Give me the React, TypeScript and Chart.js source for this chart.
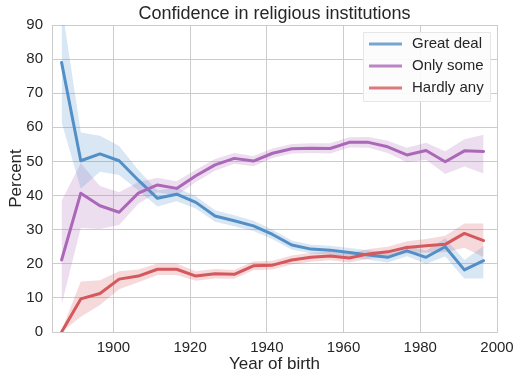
import React, { useEffect, useRef } from 'react';
import { Chart, registerables } from 'chart.js';

Chart.register(...registerables);

const birthYears = [1886.5, 1891.5, 1896.5, 1901.5, 1906.5, 1911.5, 1916.5, 1921.5, 1926.5, 1931.5, 1936.5, 1941.5, 1946.5, 1951.5, 1956.5, 1961.5, 1966.5, 1971.5, 1976.5, 1981.5, 1986.5, 1991.5, 1996.5];

const greatDeal = [79.0, 50.2, 52.2, 50.2, 44.5, 39.2, 40.4, 38.0, 34.0, 32.6, 31.1, 28.6, 25.5, 24.3, 24.0, 23.3, 22.6, 21.9, 23.8, 21.9, 25.0, 18.2, 20.9];
const greatDealLow = [61.5, 42.0, 47.0, 46.0, 41.5, 36.8, 38.3, 36.2, 32.3, 31.0, 29.6, 27.2, 24.2, 23.0, 22.7, 22.0, 21.2, 20.4, 22.2, 20.0, 22.1, 15.7, 15.7];
const greatDealHigh = [96.0, 58.5, 57.5, 54.5, 47.5, 41.5, 42.3, 39.8, 35.7, 34.2, 32.6, 30.0, 26.8, 25.6, 25.3, 24.6, 24.0, 23.4, 25.4, 23.8, 27.5, 21.1, 25.2];

const onlySome = [21.1, 40.7, 37.0, 35.1, 40.7, 43.1, 42.1, 45.8, 49.0, 50.9, 50.1, 52.4, 53.7, 53.9, 53.8, 55.6, 55.6, 54.3, 51.9, 53.2, 49.9, 53.1, 52.9];
const onlySomeLow = [8.0, 30.5, 30.2, 31.4, 37.6, 41.0, 40.0, 44.0, 47.3, 49.3, 48.6, 51.0, 52.3, 52.5, 52.3, 54.1, 54.0, 52.5, 49.8, 50.5, 46.3, 48.5, 46.5];
const onlySomeHigh = [38.5, 49.5, 42.8, 41.0, 44.0, 45.2, 44.2, 47.6, 50.7, 52.5, 51.6, 53.8, 55.1, 55.3, 55.3, 57.1, 57.2, 56.1, 54.0, 55.5, 53.0, 56.5, 57.8];

const hardlyAny = [0.0, 9.7, 11.3, 15.5, 16.4, 18.4, 18.4, 16.4, 17.1, 16.9, 19.4, 19.6, 21.1, 21.9, 22.3, 21.7, 22.9, 23.5, 24.8, 25.3, 25.7, 28.9, 26.8];
const hardlyAnyLow = [0.0, 4.5, 7.9, 12.5, 14.6, 16.7, 16.7, 15.0, 15.7, 15.6, 18.1, 18.3, 19.8, 20.6, 21.0, 20.4, 21.5, 22.0, 23.0, 23.3, 23.4, 24.7, 22.0];
const hardlyAnyHigh = [0.5, 14.8, 15.2, 17.8, 18.3, 20.1, 20.1, 17.8, 18.5, 18.2, 20.7, 20.9, 22.4, 23.2, 23.6, 23.0, 24.3, 25.0, 26.6, 27.3, 28.2, 31.8, 31.8];

const seriesLabels = ['Great deal', 'Only some', 'Hardly any'];
const xTicks = [1900, 1920, 1940, 1960, 1980, 2000];
const yTicks = [0, 10, 20, 30, 40, 50, 60, 70, 80, 90];

const chartTitle = 'Confidence in religious institutions';
const xTitle = 'Year of birth';
const yTitle = 'Percent';

const FONT = '"Liberation Sans", Arial, sans-serif';
const TEXT = '#262626';
const GRID = '#cccccc';
const COLORS: [number, number, number][] = [
  [82, 143, 199],
  [171, 104, 184],
  [212, 88, 92],
];

const rgba = (c: [number, number, number], a: number) => `rgba(${c[0]},${c[1]},${c[2]},${a})`;

export default function App() {
  const ref = useRef<HTMLCanvasElement>(null);

  useEffect(() => {
    if (!ref.current) return;
    const pts = (ys: number[]) => birthYears.map((x, i) => ({ x, y: ys[i] }));
    const groups = [
      { v: greatDeal, lo: greatDealLow, hi: greatDealHigh },
      { v: onlySome, lo: onlySomeLow, hi: onlySomeHigh },
      { v: hardlyAny, lo: hardlyAnyLow, hi: hardlyAnyHigh },
    ];
    const datasets: any[] = [];
    groups.forEach((g, k) => {
      const loIndex = datasets.length;
      datasets.push({
        label: '', data: pts(g.lo), borderWidth: 0, borderColor: 'rgba(0,0,0,0)',
        pointRadius: 0, fill: false, order: 10, tension: 0,
      });
      datasets.push({
        label: '', data: pts(g.hi), borderWidth: 0, borderColor: 'rgba(0,0,0,0)',
        pointRadius: 0, fill: loIndex, backgroundColor: rgba(COLORS[k], 0.22), order: 10, tension: 0,
      });
    });
    groups.forEach((g, k) => {
      datasets.push({
        label: seriesLabels[k], data: pts(g.v), borderColor: rgba(COLORS[k], 1), borderWidth: 3,
        pointRadius: 0, fill: false, order: 5 - k, tension: 0, borderJoinStyle: 'round', borderCapStyle: 'round',
      });
    });

    const decorations = {
      id: 'decorations',
      afterDraw(chart: any) {
        const ctx = chart.ctx as CanvasRenderingContext2D;
        const ca = chart.chartArea;
        ctx.save();
        ctx.fillStyle = TEXT;
        ctx.textAlign = 'center';
        ctx.textBaseline = 'middle';
        ctx.font = `18px ${FONT}`;
        ctx.fillText(chartTitle, (ca.left + ca.right) / 2, 14);
        ctx.font = `17px ${FONT}`;
        ctx.fillText(xTitle, (ca.left + ca.right) / 2, 364);
        ctx.save();
        ctx.translate(16, (ca.top + ca.bottom) / 2);
        ctx.rotate(-Math.PI / 2);
        ctx.fillText(yTitle, 0, 0);
        ctx.restore();

        // legend
        const lines = chart.data.datasets.filter((d: any) => d.label);
        ctx.fillStyle = 'rgba(252,252,252,0.92)';
        ctx.strokeStyle = '#e6e6e6';
        ctx.lineWidth = 1;
        ctx.beginPath();
        ctx.rect(363.5, 32.5, 127, 69);
        ctx.fill();
        ctx.stroke();
        ctx.font = `15px ${FONT}`;
        ctx.textAlign = 'left';
        lines.forEach((d: any, i: number) => {
          const y = 44 + i * 22;
          ctx.strokeStyle = d.borderColor.replace(',1)', ',0.8)');
          ctx.lineWidth = 3;
          ctx.beginPath();
          ctx.moveTo(369, y);
          ctx.lineTo(402, y);
          ctx.stroke();
          ctx.fillStyle = TEXT;
          ctx.fillText(d.label, 412, y);
        });
        ctx.restore();
      },
    };

    const chart = new Chart(ref.current, {
      type: 'line',
      data: { datasets },
      options: {
        animation: false,
        responsive: false,
        devicePixelRatio: 1,
        layout: { padding: { top: 25, right: 24, left: 0, bottom: 0 } },
        plugins: {
          legend: { display: false },
          tooltip: { enabled: false },
          title: { display: false },
        },
        scales: {
          x: {
            type: 'linear',
            min: 1884,
            max: 2000,
            afterBuildTicks: (axis: any) => { axis.ticks = xTicks.map((v) => ({ value: v })); },
            afterFit: (s: any) => { s.height = 48; },
            grid: { color: GRID, lineWidth: 1, drawTicks: false },
            border: { display: true, color: GRID },
            ticks: {
              padding: 7, color: TEXT, font: { family: FONT, size: 15 },
              callback: (v: any) => String(v), maxRotation: 0,
            },
          },
          y: {
            type: 'linear',
            min: 0,
            max: 90,
            afterBuildTicks: (axis: any) => { axis.ticks = yTicks.map((v) => ({ value: v })); },
            afterFit: (s: any) => { s.width = 52; },
            grid: { color: GRID, lineWidth: 1, drawTicks: false },
            border: { display: true, color: GRID },
            ticks: {
              padding: 9, color: TEXT, font: { family: FONT, size: 15 },
              callback: (v: any) => String(v),
            },
          },
        },
      },
      plugins: [decorations],
    });
    return () => chart.destroy();
  }, []);

  return (
    <div style={{ position: 'fixed', left: 0, top: 0, width: 521, height: 380, background: '#fff' }}>
      <canvas ref={ref} width={521} height={380} style={{ width: 521, height: 380, display: 'block' }} />
    </div>
  );
}
